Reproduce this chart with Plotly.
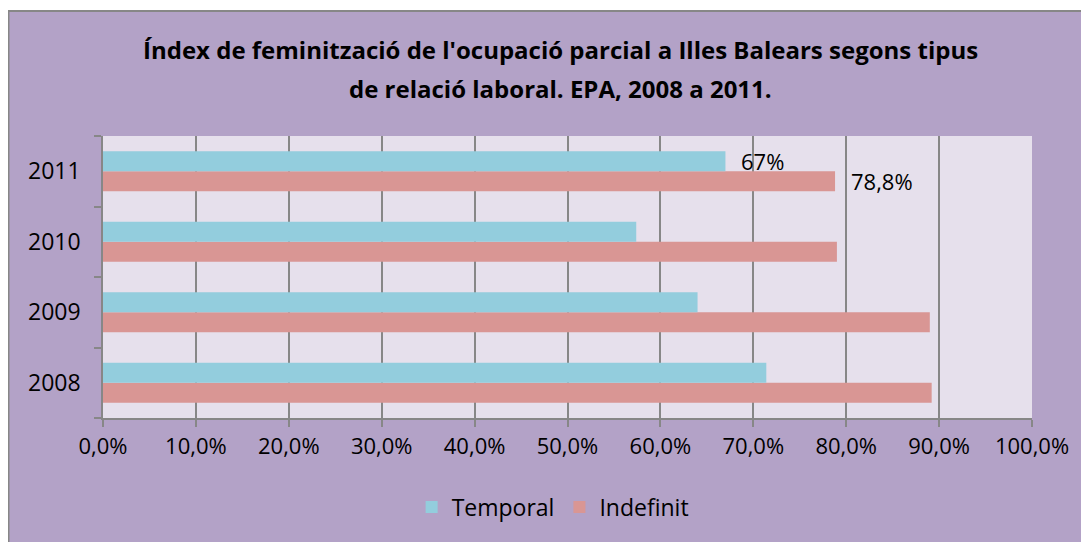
import plotly.graph_objects as go

years = ["2008", "2009", "2010", "2011"]
temporal = [71.4, 64.0, 57.4, 67.0]
indefinit = [89.2, 89.0, 79.0, 78.8]
x_ticks = [0, 10, 20, 30, 40, 50, 60, 70, 80, 90, 100]
x_ticklabels = ["0,0%", "10,0%", "20,0%", "30,0%", "40,0%", "50,0%", "60,0%", "70,0%", "80,0%", "90,0%", "100,0%"]
labels_2011 = {"Temporal": "67%", "Indefinit": "78,8%"}
title_lines = ["Índex de feminització de l'ocupació parcial a Illes Balears segons tipus",
               "de relació laboral. EPA, 2008 a 2011."]

FONT = "Open Sans"
W, H = 1089, 542
L, R, T, B = 95, 65, 128, 132
PW, PH = W - L - R, H - T - B


def px_x(X):
    return (X - L) / PW


def px_y(Y):
    return (H - B - Y) / PH


fig = go.Figure()
fig.add_trace(go.Bar(y=years, x=indefinit, name="Indefinit", orientation="h",
                     marker=dict(color="#D99694", line=dict(width=0)), legendrank=2))
fig.add_trace(go.Bar(y=years, x=temporal, name="Temporal", orientation="h",
                     marker=dict(color="#93CDDD", line=dict(width=0)), legendrank=1))

# data labels for 2011 (category index 3)
idx_2011 = years.index("2011")
fig.add_annotation(x=temporal[idx_2011], y=idx_2011, text=labels_2011["Temporal"], showarrow=False,
                   xanchor="left", yanchor="middle", xshift=14, yshift=10,
                   font=dict(family=FONT, size=22, color="#000"))
fig.add_annotation(x=indefinit[idx_2011], y=idx_2011, text=labels_2011["Indefinit"], showarrow=False,
                   xanchor="left", yanchor="middle", xshift=14, yshift=-10,
                   font=dict(family=FONT, size=22, color="#000"))

# title, two lines
for line, ypx in zip(title_lines, [42, 81]):
    fig.add_annotation(xref="paper", yref="paper", x=px_x(552), y=px_y(ypx), text="<b>" + line + "</b>",
                       showarrow=False, xanchor="center", yanchor="middle",
                       font=dict(family=FONT, size=24, color="#000"))

# white strip above chart frame, and frame lines
fig.add_shape(type="rect", xref="paper", yref="paper", x0=px_x(-5), x1=px_x(W + 5), y0=px_y(2), y1=px_y(-5),
              fillcolor="white", line=dict(width=0))
fig.add_shape(type="line", xref="paper", yref="paper", x0=px_x(0.5), x1=px_x(0.5), y0=px_y(2), y1=px_y(H + 5),
              line=dict(color="#878787", width=2))
fig.add_shape(type="line", xref="paper", yref="paper", x0=px_x(0), x1=px_x(W + 5), y0=px_y(3), y1=px_y(3),
              line=dict(color="#878787", width=2))

fig.update_layout(
    width=W, height=H,
    margin=dict(l=L, r=R, t=T, b=B),
    paper_bgcolor="#B3A2C7", plot_bgcolor="#E6E0EC",
    barmode="group", bargap=0.43, bargroupgap=0,
    font=dict(family=FONT, size=22, color="#000"),
    showlegend=True,
    legend=dict(orientation="h", x=0.484, xanchor="center", y=-0.316, yanchor="middle",
                font=dict(family=FONT, size=23), bgcolor="rgba(0,0,0,0)"),
    xaxis=dict(range=[0, 100], tickvals=x_ticks, ticktext=x_ticklabels, showgrid=True,
               gridcolor="#878787", gridwidth=1.5, showline=True, linecolor="#878787", linewidth=1.5,
               ticks="outside", ticklen=7, tickcolor="#878787", tickwidth=1.5, zeroline=False,
               ticklabelstandoff=1, tickfont=dict(family=FONT, size=22)),
    yaxis=dict(type="category", categoryorder="array", categoryarray=years, range=[-0.5, 3.5],
               showline=True, linecolor="#878787", linewidth=1.5, ticks="outside", ticklen=7,
               tickcolor="#878787", tickwidth=1.5, tickson="boundaries", showgrid=False,
               ticklabelstandoff=16, tickfont=dict(family=FONT, size=23)),
)
fig.write_html("out.html")
